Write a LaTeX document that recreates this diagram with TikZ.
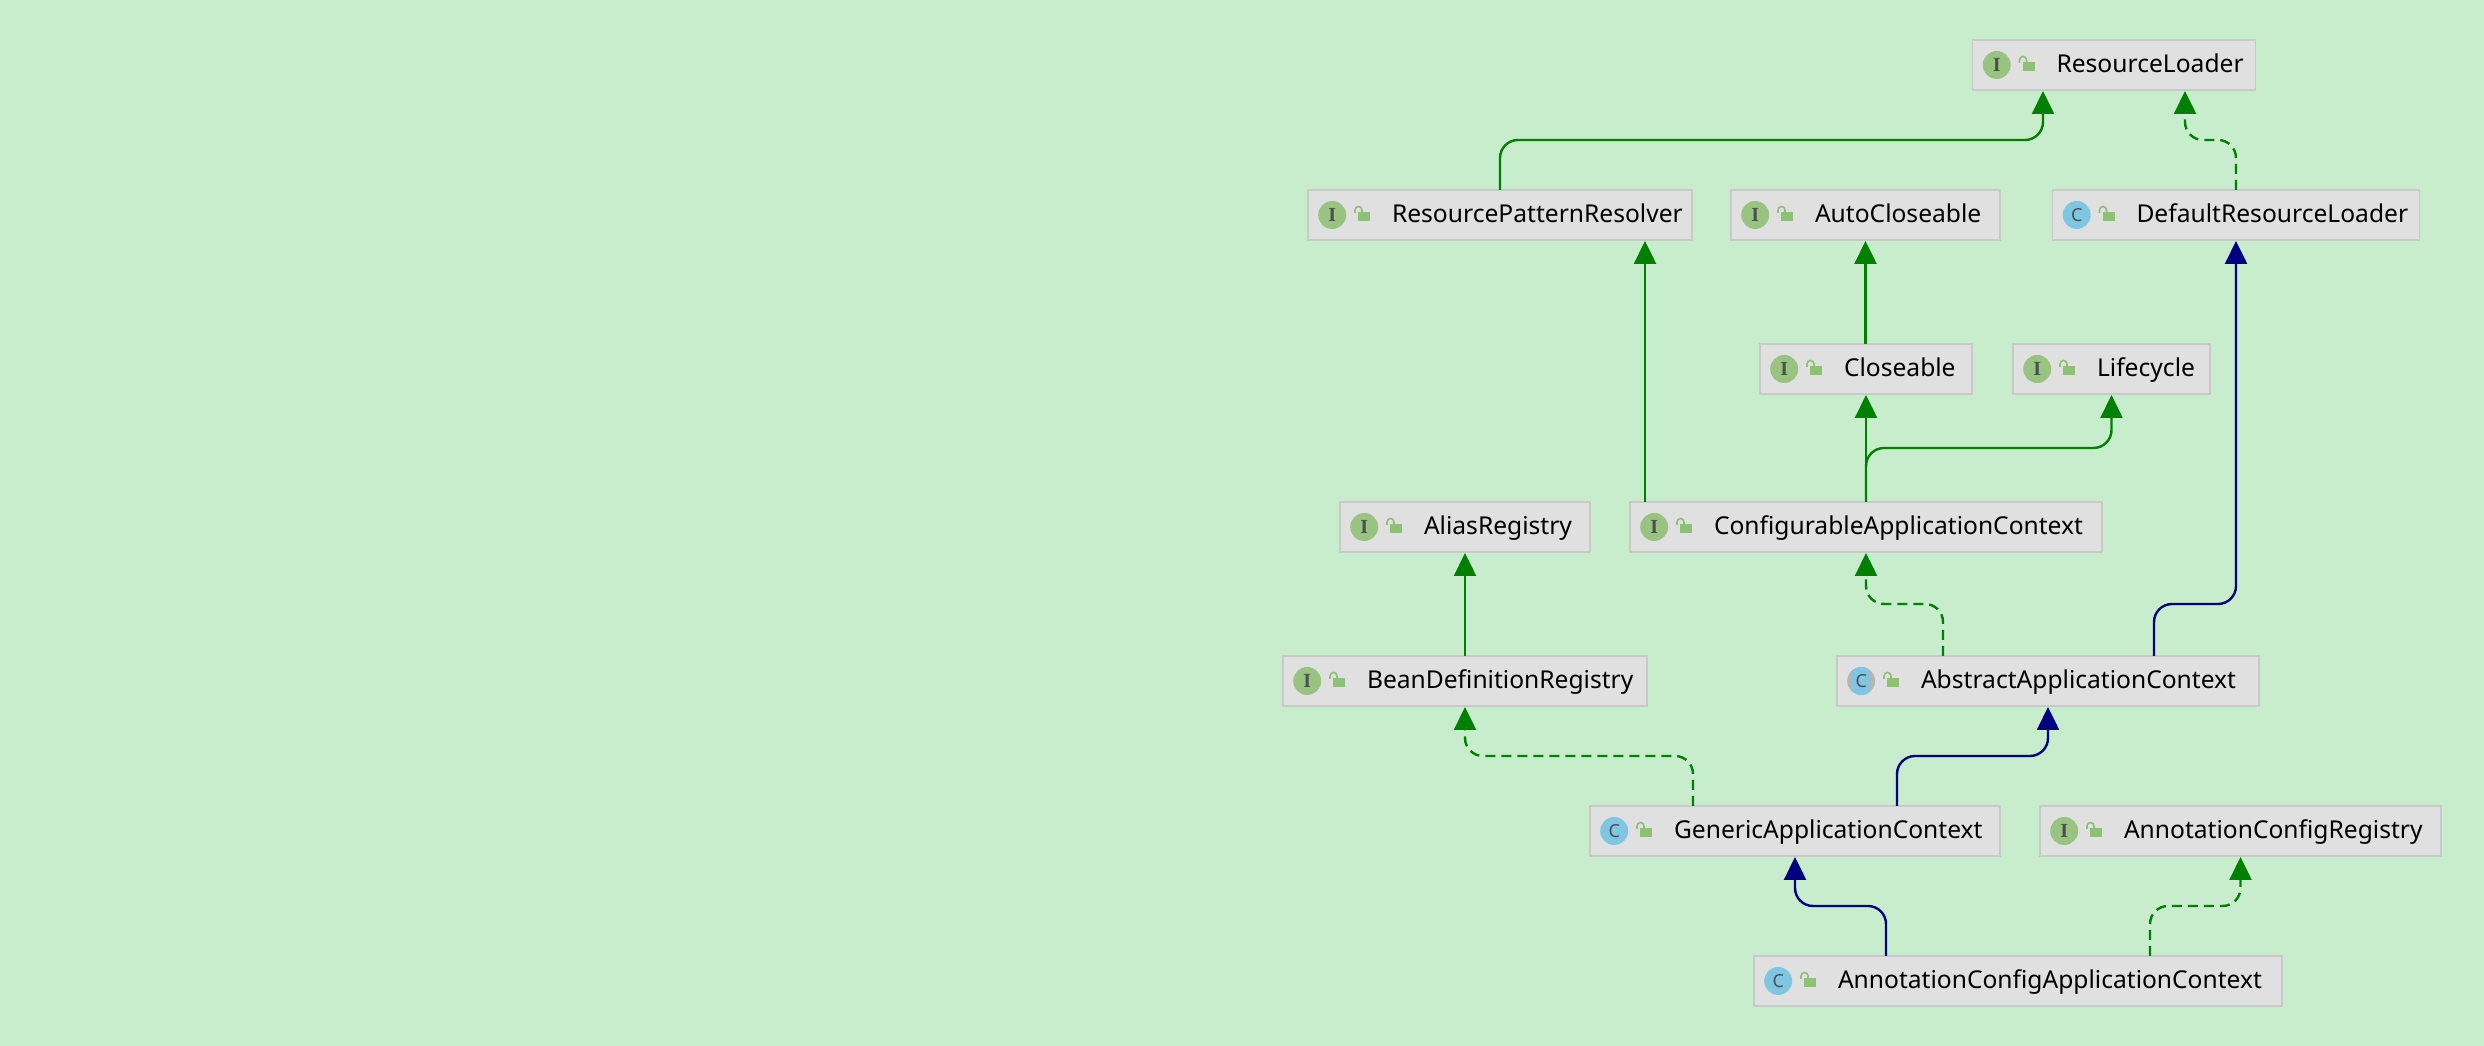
\documentclass[tikz,border=0pt]{standalone}
\usepackage{fontspec}
\setmainfont{Noto Sans}
\newfontfamily\letterfont{Liberation Serif}
\usetikzlibrary{arrows.meta, positioning}

\definecolor{eyegreen}{HTML}{C7EDCC}
\definecolor{boxgray}{HTML}{E0E0E0}
\definecolor{boxline}{HTML}{C9C9C9}
\definecolor{icongreen}{HTML}{98C380}
\definecolor{iconblue}{HTML}{7FC6E3}
\definecolor{iconink}{HTML}{4A4F52}
\definecolor{lockgreen}{HTML}{8CC274}
\definecolor{extendblue}{HTML}{000080}
\definecolor{extendgreen}{HTML}{008000}

\newcommand{\typeicons}[3]{
	\node[#2, right=10pt of #1.west] (#1icon) {#3};
	\fill[lockgreen] ([xshift=50pt,yshift=-6pt]#1.west) rectangle ++(12,9);
	\draw[lockgreen, line width=1.6pt] ([xshift=47pt,yshift=2pt]#1.west) -- ++(0,3) arc (180:0:3.5) -- ++(0,-2);
}

\begin{document}
\begin{tikzpicture}[x=1pt, y=1pt]
		\tikzset{
			host/.style={rectangle, draw=boxline, fill=boxgray, line width=1.2pt, outer sep=0pt, inner xsep=0pt, inner ysep=0pt, text width=#1*1pt, minimum height=50pt, text height=20pt, text depth=4pt, align=left, font=\fontsize{24.6}{28}\selectfont, execute at begin node=\hspace*{84pt}},
			iface/.style={circle, fill=icongreen, text=iconink, minimum size=28pt, inner sep=0pt, font=\letterfont\bfseries\fontsize{20}{20}\selectfont},
			cls/.style={circle, fill=iconblue, text=iconink, minimum size=28pt, inner sep=0pt, font=\bfseries\fontsize{18}{18}\selectfont},
			abstractcls/.style={cls, fill=boxline!90!black, path picture={\fill[iconblue] ([xshift=-9pt]path picture bounding box.south) rectangle ([xshift=9pt]path picture bounding box.north);}},
			extends/.style={-{Triangle[length=23pt, width=22pt]}, line width=2.4pt, shorten >=1pt, rounded corners=18pt},
			greenextends/.style={extends, color=extendgreen},
			blueextends/.style={extends, color=extendblue},
			implements/.style={greenextends, dash pattern=on 10pt off 6pt}
		}
		\fill[eyegreen] (0,0) rectangle (2484,1046);

		\node[host=283, anchor=north west] (resourceloader) at (1972.5,1006) {ResourceLoader};
		\node[host=384, below right=100pt and -664.5pt of resourceloader.south west] (patternresolver) {ResourcePatternResolver};
		\node[host=269, right=39pt of patternresolver] (autocloseable) {AutoCloseable};
		\node[host=367, right=52.5pt of autocloseable] (defaultloader) {DefaultResourceLoader};
		\node[host=212, below right=104pt and 29pt of autocloseable.south west] (closeable) {Closeable};
		\node[host=197, right=41pt of closeable] (lifecycle) {Lifecycle};
		\node[host=472, below right=108pt and -130pt of closeable.south west] (configurable) {ConfigurableApplicationContext};
		\node[host=250, left=40pt of configurable] (aliasregistry) {AliasRegistry};
		\node[host=364, below right=104pt and -57pt of aliasregistry.south west] (beanregistry) {BeanDefinitionRegistry};
		\node[host=422, below right=104pt and 207pt of configurable.south west] (abstractcontext) {AbstractApplicationContext};
		\node[host=410, below right=100pt and 307pt of beanregistry.south west] (genericcontext) {GenericApplicationContext};
		\node[host=401, right=40pt of genericcontext] (configregistry) {AnnotationConfigRegistry};
		\node[host=528, below right=100pt and 164pt of genericcontext.south west] (annotationcontext) {AnnotationConfigApplicationContext};

		\typeicons{resourceloader}{iface}{I}
		\typeicons{patternresolver}{iface}{I}
		\typeicons{autocloseable}{iface}{I}
		\typeicons{defaultloader}{cls}{C}
		\typeicons{closeable}{iface}{I}
		\typeicons{lifecycle}{iface}{I}
		\typeicons{configurable}{iface}{I}
		\typeicons{aliasregistry}{iface}{I}
		\typeicons{beanregistry}{iface}{I}
		\typeicons{abstractcontext}{abstractcls}{C}
		\typeicons{genericcontext}{cls}{C}
		\typeicons{configregistry}{iface}{I}
		\typeicons{annotationcontext}{cls}{C}

		\draw[greenextends] (patternresolver.north) -- ++(0,50) -| ([xshift=-71pt]resourceloader.south);
		\draw[implements] (defaultloader.north) -- ++(0,50) -| ([xshift=71pt]resourceloader.south);
		\draw[greenextends] (closeable.north -| autocloseable.south) -- (autocloseable.south);
		\draw[greenextends] (configurable.north) -- (configurable.north |- closeable.south);
		\draw[greenextends] (configurable.north) -- ++(0,54) -| (lifecycle.south);
		\draw[greenextends] ([xshift=-221pt]configurable.north) -- ([xshift=-221pt]configurable.north |- patternresolver.south);
		\draw[greenextends] (beanregistry.north -| aliasregistry.south) -- (aliasregistry.south);
		\draw[implements] ([xshift=-105pt]abstractcontext.north) -- ++(0,52) -| (configurable.south);
		\draw[blueextends] ([xshift=106pt]abstractcontext.north) -- ++(0,52) -| (defaultloader.south);
		\draw[blueextends] ([xshift=102pt]genericcontext.north) -- ++(0,50) -| (abstractcontext.south);
		\draw[implements] ([xshift=-102pt]genericcontext.north) -- ++(0,50) -| (beanregistry.south);
		\draw[blueextends] ([xshift=-132pt]annotationcontext.north) -- ++(0,50) -| (genericcontext.south);
		\draw[implements] ([xshift=132pt]annotationcontext.north) -- ++(0,50) -| (configregistry.south);
	\end{tikzpicture}
\end{document}
